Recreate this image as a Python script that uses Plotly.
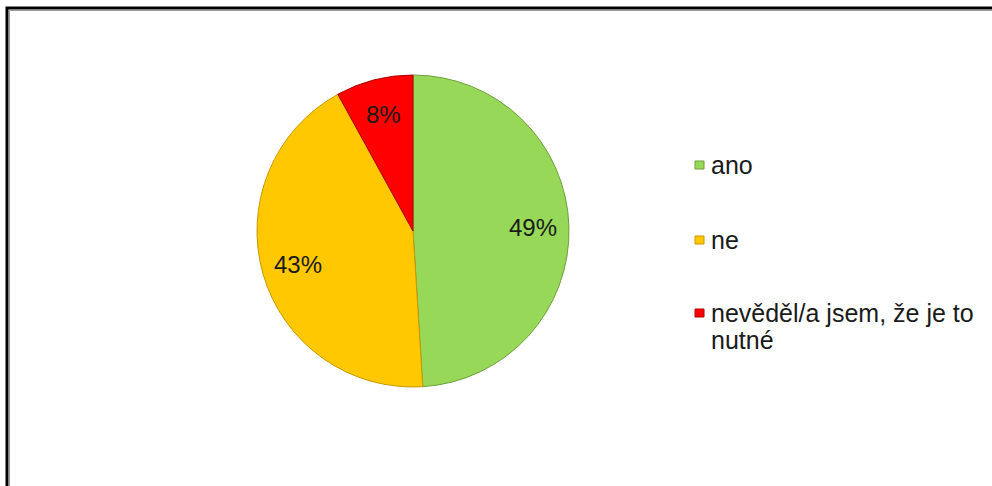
import math
import plotly.graph_objects as go

# Survey answers and their shares (percent)
labels = ["ano", "ne", "nevěděl/a jsem, že je to nutné"]
legend_lines = [["ano"], ["ne"], ["nevěděl/a jsem, že je to", "nutné"]]
values = [49, 43, 8]
colors = ["#98D858", "#FFC800", "#FF0000"]
edge_colors = ["#6E9E3A", "#C99700", "#B00000"]

W, H = 992, 486
FONT = "Liberation Sans, Arial"

# Pie placement (pixels)
cx, cy, radius = 413, 231, 156

fig = go.Figure()
fig.add_trace(go.Pie(
    labels=labels,
    values=values,
    sort=False,
    direction="clockwise",
    rotation=0,
    marker=dict(colors=colors, line=dict(color=edge_colors, width=1)),
    textinfo="none",
    domain=dict(x=[(cx - radius) / W, (cx + radius) / W],
                y=[(H - cy - radius) / H, (H - cy + radius) / H]),
    showlegend=False,
    hoverinfo="label+percent",
))

annotations = []
shapes = []

# Percentage labels placed along each slice's bisector
total = sum(values)
start = 0.0
for v in values:
    frac = v / total
    mid = (start + frac / 2) * 2 * math.pi  # clockwise from 12 o'clock
    start += frac
    r = 0.77 * radius
    px = cx + r * math.sin(mid)
    py = cy - r * math.cos(mid)
    annotations.append(dict(
        xref="paper", yref="paper", x=px / W, y=(H - py) / H,
        xanchor="center", yanchor="middle",
        text=f"{round(frac * 100)}%", showarrow=False,
        font=dict(family=FONT, size=24, color="#1a1a1a"),
    ))

# Hand-built legend so entries can be spaced out vertically
legend_x = 695
legend_rows = [165, 240, 313]
line_gap = 27
for lines, col, edge, y in zip(legend_lines, colors, edge_colors, legend_rows):
    shapes.append(dict(
        type="rect", xref="paper", yref="paper",
        x0=legend_x / W, x1=(legend_x + 9) / W,
        y0=(H - y - 4) / H, y1=(H - y + 4) / H,
        fillcolor=col, line=dict(color=edge, width=1),
    ))
    for i, txt in enumerate(lines):
        ly = y + i * line_gap
        annotations.append(dict(
            xref="paper", yref="paper", x=(legend_x + 14) / W, y=(H - ly) / H,
            xanchor="left", yanchor="middle", align="left",
            text=txt, showarrow=False,
            font=dict(family=FONT, size=25, color="#1a1a1a"),
        ))

# Chart frame (top and left edges visible, the rest runs off the page)
shapes.append(dict(
    type="rect", xref="paper", yref="paper",
    x0=7 / W, x1=1.05, y0=-0.05, y1=(H - 8) / H,
    line=dict(color="#000000", width=3), fillcolor="rgba(0,0,0,0)",
))
shapes.append(dict(
    type="line", xref="paper", yref="paper",
    x0=9.5 / W, x1=1.05, y0=(H - 10.5) / H, y1=(H - 10.5) / H,
    line=dict(color="#9a9a9a", width=1),
))
shapes.append(dict(
    type="line", xref="paper", yref="paper",
    x0=9.5 / W, x1=9.5 / W, y0=-0.05, y1=(H - 10.5) / H,
    line=dict(color="#9a9a9a", width=1),
))

fig.update_layout(
    width=W, height=H,
    margin=dict(l=0, r=0, t=0, b=0),
    paper_bgcolor="white",
    plot_bgcolor="white",
    shapes=shapes,
    annotations=annotations,
)

fig.write_html("out.html")
